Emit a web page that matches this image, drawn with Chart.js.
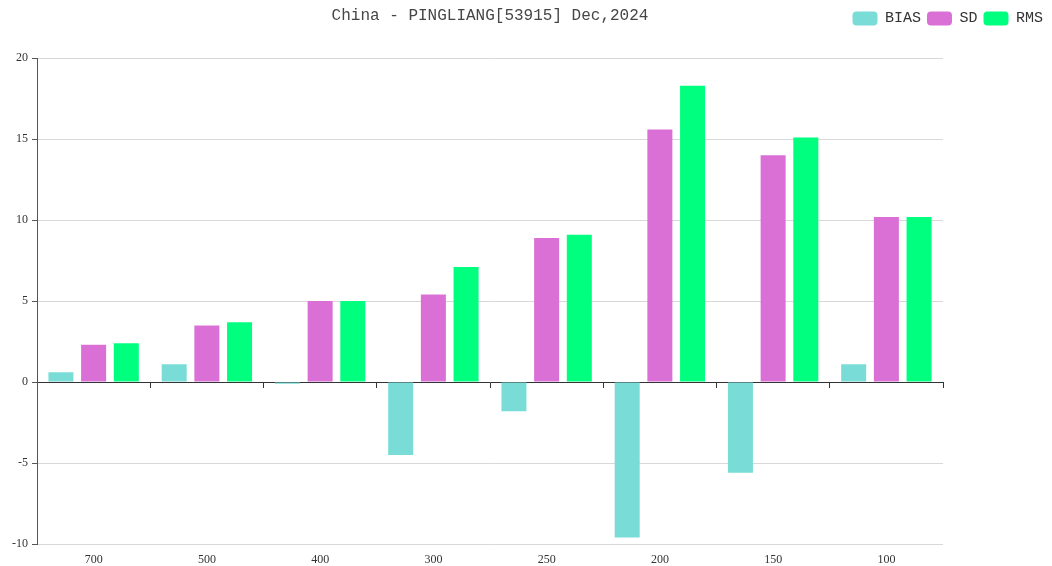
<!DOCTYPE html>
<html>
<head>
<meta charset="utf-8">
<script src="https://cdn.jsdelivr.net/npm/chart.js@4/dist/chart.umd.min.js"></script>
<style>
  html, body { margin: 0; padding: 0; background: #fff; }
  #wrap { width: 1052px; height: 566px; }
</style>
</head>
<body>
<div id="wrap"><canvas id="myChart"></canvas></div>
<script>
// Pressure levels (hPa) on the x axis
const levels = ['700', '500', '400', '300', '250', '200', '150', '100'];

// Series values
const bias = [0.6, 1.1, -0.1, -4.5, -1.8, -9.6, -5.6, 1.1];
const sd   = [2.3, 3.5, 5.0, 5.4, 8.9, 15.6, 14.0, 10.2];
const rms  = [2.4, 3.7, 5.0, 7.1, 9.1, 18.3, 15.1, 10.2];

// Y axis range
const yMin = -10;
const yMax = 20;
const yStep = 5;

const axisColor = '#555';
const gridColor = '#d8d8d8';

// moves the legend up so it sits on the same row as the title
const legendRow = {
    id: 'legendRow',
    afterLayout(chart) {
        const lg = chart.legend;
        if (!lg) return;
        const h = lg.bottom - lg.top;
        lg.top = 5;
        lg.bottom = 5 + h;
        lg.right -= 3;
    }
};

const data = {
    labels: levels,
    datasets: [
        { label: 'BIAS', data: bias, backgroundColor: '#7adcd6' },
        { label: 'SD',   data: sd,   backgroundColor: '#da70d6' },
        { label: 'RMS',  data: rms,  backgroundColor: '#00ff7f' }
    ]
};

const config = {
    type: 'bar',
    data: data,
    options: {
        responsive: true,
        maintainAspectRatio: false,
        animation: false,
        categoryPercentage: 0.866,
        barPercentage: 0.765,
        layout: { padding: { left: 0, right: 0, top: 0, bottom: 0 } },
        plugins: {
            title: {
                display: true,
                fullSize: false,
                text: 'China - PINGLIANG[53915] Dec,2024',
                color: '#464646',
                font: { family: 'Liberation Mono', size: 16, weight: 'normal' },
                padding: { top: 6, bottom: 2 }
            },
            legend: {
                position: 'top',
                align: 'end',
                labels: {
                    boxWidth: 25,
                    boxHeight: 14,
                    useBorderRadius: true,
                    borderRadius: 4,
                    padding: 6,
                    color: '#333',
                    font: { family: 'Liberation Mono', size: 15 }
                }
            },
            tooltip: { enabled: false }
        },
        scales: {
            x: {
                position: 'bottom',
                grid: { display: false },
                border: { display: false },
                ticks: {
                    color: '#333',
                    padding: 1,
                    font: { family: 'Liberation Serif', size: 12 }
                },
                afterFit: s => { s.height = 22; }
            },
            // axis line and tick marks along y = 0
            x2: {
                type: 'category',
                labels: levels,
                position: { y: 0 },
                offset: true,
                grid: {
                    offset: true,
                    drawOnChartArea: false,
                    drawTicks: true,
                    tickLength: 5,
                    tickColor: '#333'
                },
                border: { color: '#333', width: 1 },
                ticks: { display: false }
            },
            y: {
                min: yMin,
                max: yMax,
                ticks: {
                    stepSize: yStep,
                    color: '#333',
                    padding: 4,
                    font: { family: 'Liberation Serif', size: 12 }
                },
                grid: {
                    color: ctx => (ctx.tick && ctx.tick.value === 0) ? 'rgba(0,0,0,0)' : gridColor,
                    tickColor: axisColor,
                    tickLength: 5,
                    lineWidth: 1
                },
                border: { color: axisColor, width: 1 },
                afterFit: s => { s.width = 37; }
            },
            // empty axis that only reserves the right margin
            yr: {
                type: 'linear',
                position: 'right',
                grid: { display: false },
                border: { display: false },
                ticks: { display: false },
                afterFit: s => { s.width = 109; }
            }
        }
    },
    plugins: [legendRow]
};

const ctx = document.getElementById('myChart').getContext('2d');
const myChart = new Chart(ctx, config);
</script>
</body>
</html>
